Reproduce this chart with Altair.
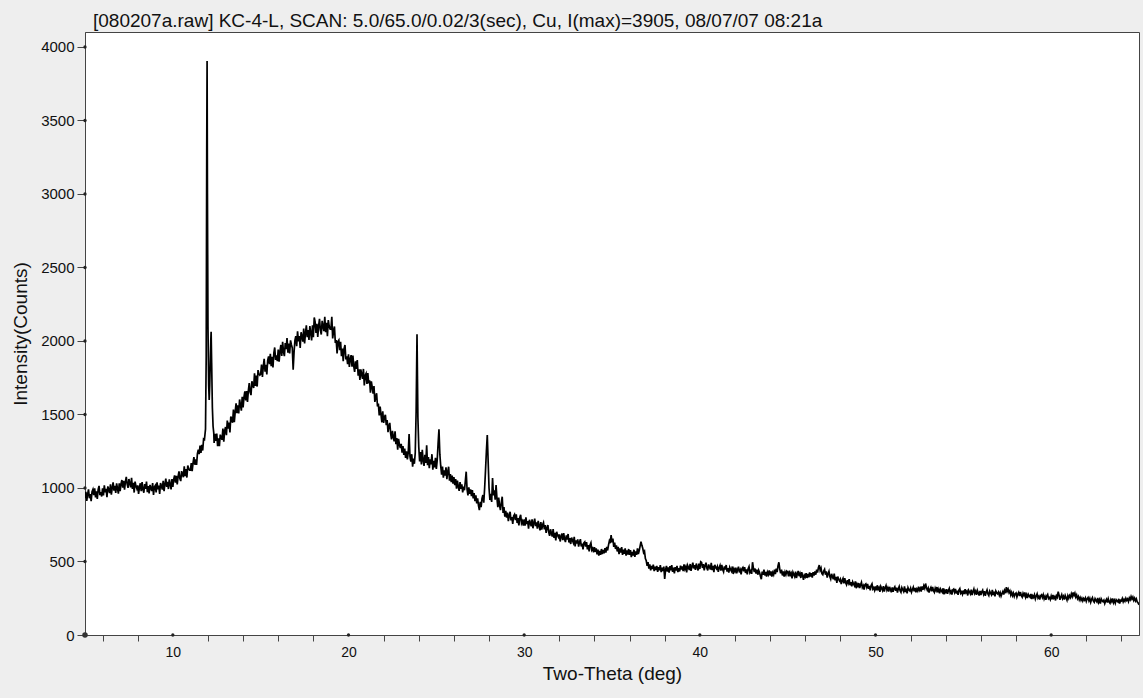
import altair as alt
import pandas as pd

TITLE = "[080207a.raw] KC-4-L, SCAN: 5.0/65.0/0.02/3(sec), Cu, I(max)=3905, 08/07/07 08:21a"
FONT = "Liberation Sans, Arial, Helvetica, sans-serif"

# Counts on a 0.05° grid: row k holds 2-theta = 5+k, 5+k+0.05, ... 5+k+0.95.
# None marks points that are covered by the finer doublet list below.
counts_by_degree = [
    # 5
    [931, 974, 912, 959, 991, 930, 958, 910, 975, 990, 951, 997, 936, 978, 926, 990, 1014, 952, 972, 942],
    # 6
    [997, 950, 1018, 970, 994, 938, 1011, 990, 965, 1025, 954, 1001, 1038, 982, 1014, 966, 1031, 996, 962, 1031],
    # 7
    [978, 1028, 1054, 1003, 1048, 989, 1041, 1076, 1026, 1001, 1061, 1030, 1004, 1069, 994, 1036, 969, 1043, 1013, 996],
    # 8
    [1018, 960, 1005, 1032, 978, 1040, 991, 968, 1027, 995, 1044, 972, 1013, 963, 1021, 999, 980, 1034, 953, 1007],
    # 9
    [1017, 970, 1039, 992, 1016, 960, 1034, 1013, 989, 1049, 979, 1026, 1064, 1008, 1041, 993, 1059, 1025, 991, 1060],
    # 10
    [1008, 1059, 1086, 1036, 1082, 1024, 1078, 1113, 1064, 1047, 1115, 1092, 1074, 1147, 1080, 1129, 1071, 1153, 1131, 1121],
    # 11
    [1121, 1169, 1114, 1169, 1210, 1158, 1194, 1157, 1233, 1260, 1231, 1288, 1238, 1293, 1255, 1334, 1330, None, None, None],
    # 12
    [None, None, None, None, None, None, None, 1307, 1368, 1320, 1370, 1285, 1338, 1284, 1363, 1342, 1328, 1404, 1315, 1389],
    # 13
    [1415, 1359, 1459, 1404, 1445, 1378, 1486, 1468, 1444, 1534, 1448, 1518, 1576, 1509, 1562, 1507, 1602, 1564, 1526, 1621],
    # 14
    [1548, 1618, 1658, 1596, 1660, 1586, 1662, 1714, 1652, 1632, 1726, 1700, 1680, 1780, 1694, 1764, 1690, 1802, 1776, 1768],
    # 15
    [1775, 1840, 1755, 1826, 1878, 1792, 1838, 1772, 1869, 1895, 1842, 1913, 1828, 1893, 1820, 1918, 1956, 1871, 1903, 1863],
    # 16
    [1941, 1860, 1930, 1973, 1898, 1994, 1926, 1897, 1986, 1944, 2020, 1920, 1983, 1915, 2004, 1975, 1953, 1805, 1922, 2004],
    # 17
    [2033, 1965, 2066, 1998, 2034, 1953, 2060, 2032, 1995, 2084, 1983, 2052, 2107, 2026, 2075, 2007, 2102, 2053, 2004, 2106],
    # 18
    [2026, 2160, 2130, 2055, 2117, 2028, 2103, 2151, 2074, 2044, 2137, 2099, 2067, 2165, 2060, 2124, 2032, 2142, 2102, 2081],
    # 19
    [2080, 2165, 2018, 2068, 2099, 1987, 2007, 1915, 1996, 2006, 1937, 1995, 1897, 1949, 1863, 1948, 1973, 1875, 1895, 1842],
    # 20
    [1909, 1823, 1876, 1904, 1825, 1901, 1828, 1790, 1861, 1811, 1870, 1764, 1808, 1735, 1807, 1772, 1743, 1810, 1697, 1765],
    # 21
    [1778, 1708, 1782, 1712, 1732, 1649, 1726, 1687, 1642, 1694, 1586, 1621, 1645, 1554, 1574, 1494, 1554, 1500, 1447, 1521],
    # 22
    [1443, 1483, 1498, 1428, 1463, 1380, 1422, 1443, 1370, 1330, 1388, 1349, 1317, 1385, 1298, 1340, 1260, 1335, 1295, 1272],
    # 23
    [1300, 1240, 1285, 1225, 1268, 1205, 1250, 1195, 1240, 1367, 1215, 1180, 1230, 1145, 1200, 1165, 1240, 1520, 2045, 1480],
    # 24
    [1280, 1180, 1245, 1160, 1260, 1190, 1150, 1225, 1170, 1290, 1155, 1210, 1135, 1195, 1160, 1230, 1125, 1185, 1140, 1205],
    # 25
    [1130, 1190, 1300, 1399, 1230, 1150, 1090, 1145, 1070, 1120, 1085, 1140, 1060, 1110, 1145, 1050, 1095, 1040, 1085, 1030],
    # 26
    [1075, 1020, 1060, 995, 1050, 1010, 980, 1040, 995, 1025, 970, 1010, 985, 1045, 1111, 990, 950, 1005, 960, 990],
    # 27
    [945, 985, 930, 965, 910, 950, 895, 930, 880, 850, 905, 870, 930, 952, 900, 1000, 1120, 1250, 1360, 1180],
    # 28
    [1000, 918, 960, 905, 1068, 950, 985, 920, 1020, 930, 870, 935, 880, 850, 900, 941, 830, 870, 805, 845],
    # 29
    [798, 832, 774, 812, 838, 780, 802, 756, 810, 820, 782, 820, 762, 796, 746, 800, 818, 760, 774, 744],
    # 30
    [787, 744, 800, 756, 774, 724, 784, 764, 739, 787, 726, 763, 792, 741, 766, 723, 776, 744, 712, 768],
    # 31
    [717, 750, 765, 719, 748, 695, 729, 748, 699, 674, 719, 692, 670, 721, 661, 695, 643, 702, 679, 666],
    # 32
    [684, 636, 670, 690, 645, 693, 652, 632, 677, 650, 687, 629, 659, 619, 663, 643, 627, 667, 603, 643],
    # 33
    [622, 650, 601, 632, 652, 603, 621, 582, 626, 633, 601, 632, 583, 611, 568, 613, 627, 578, 589, 563],
    # 34
    [598, 565, 590, 548, 580, 540, 572, 545, 585, 550, 578, 556, 590, 560, 600, 575, 612, 640, 625, 680],
    # 35
    [630, 655, 600, 628, 585, 610, 568, 600, 550, 590, 560, 598, 545, 580, 552, 590, 540, 575, 548, 585],
    # 36
    [545, 578, 530, 565, 540, 580, 532, 568, 545, 590, 550, 575, 605, 635, 610, 590, 560, 570, 520, 505],
    # 37
    [470, 495, 452, 480, 440, 470, 448, 478, 435, 465, 442, 470, 430, 462, 440, 475, 428, 458, 436, 465],
    # 38
    [382, 445, 470, 432, 460, 425, 468, 440, 475, 430, 458, 420, 462, 438, 470, 428, 455, 432, 472, 445],
    # 39
    [467, 435, 481, 448, 464, 426, 475, 461, 443, 483, 436, 467, 492, 453, 475, 443, 486, 463, 439, 485],
    # 40
    [449, 498, 493, 456, 482, 439, 472, 492, 455, 439, 480, 462, 446, 490, 442, 471, 428, 478, 460, 450],
    # 41
    [466, 429, 457, 473, 438, 477, 445, 430, 467, 446, 476, 431, 455, 425, 460, 445, 434, 466, 415, 449],
    # 42
    [434, 458, 419, 446, 465, 426, 443, 412, 451, 459, 433, 461, 422, 446, 413, 451, 465, 425, 436, 416],
    # 43
    [495, 455, 428, 452, 418, 445, 410, 440, 425, 400, 380, 432, 410, 445, 405, 430, 398, 428, 412, 440],
    # 44
    [405, 432, 398, 425, 410, 445, 415, 452, 428, 470, 495, 448, 420, 445, 405, 432, 398, 428, 410, 435],
    # 45
    [429, 399, 438, 409, 421, 386, 427, 412, 397, 431, 388, 415, 436, 400, 418, 388, 427, 404, 376, 406],
    # 46
    [395, 420, 388, 415, 392, 425, 398, 420, 390, 428, 405, 432, 410, 445, 425, 458, 476, 440, 455, 418],
    # 47
    [411, 435, 446, 410, 432, 391, 417, 433, 398, 381, 416, 397, 380, 418, 372, 396, 355, 398, 379, 368],
    # 48
    [380, 346, 370, 384, 351, 386, 356, 342, 373, 354, 380, 339, 360, 331, 362, 348, 336, 365, 318, 347],
    # 49
    [333, 353, 319, 342, 358, 323, 336, 309, 342, 348, 325, 348, 314, 334, 304, 337, 348, 313, 322, 304],
    # 50
    [330, 304, 338, 312, 323, 293, 330, 317, 303, 332, 296, 319, 336, 306, 321, 296, 328, 309, 290, 324],
    # 51
    [294, 317, 328, 301, 322, 289, 314, 330, 302, 291, 322, 308, 296, 330, 292, 315, 283, 322, 307, 300],
    # 52
    [318, 292, 310, 325, 298, 320, 290, 312, 300, 328, 305, 318, 295, 330, 308, 335, 318, 350, 322, 305],
    # 53
    [319, 289, 311, 323, 297, 327, 302, 291, 318, 303, 326, 290, 310, 284, 313, 301, 291, 318, 277, 303],
    # 54
    [291, 311, 280, 302, 317, 286, 298, 275, 306, 312, 291, 313, 282, 302, 274, 305, 315, 284, 293, 277],
    # 55
    [303, 279, 312, 288, 298, 269, 304, 293, 280, 308, 272, 294, 312, 283, 298, 274, 303, 286, 268, 300],
    # 56
    [272, 294, 305, 278, 298, 267, 290, 306, 279, 268, 298, 285, 274, 307, 272, 294, 263, 299, 286, 280],
    # 57
    [292, 270, 288, 265, 282, 296, 275, 302, 285, 325, 298, 312, 288, 300, 272, 290, 268, 285, 262, 280],
    # 58
    [286, 259, 278, 290, 265, 292, 269, 258, 284, 269, 290, 257, 274, 252, 277, 266, 257, 280, 244, 267],
    # 59
    [256, 274, 246, 265, 280, 252, 263, 241, 268, 274, 255, 274, 246, 263, 240, 266, 276, 248, 255, 241],
    # 60
    [265, 243, 273, 251, 261, 235, 267, 257, 295, 271, 239, 259, 275, 249, 263, 241, 269, 253, 237, 267],
    # 61
    [250, 268, 255, 280, 262, 290, 270, 285, 258, 272, 248, 262, 240, 255, 236, 250, 232, 248, 238, 252],
    # 62
    [229, 246, 255, 233, 249, 223, 242, 254, 232, 223, 247, 235, 226, 252, 223, 240, 214, 245, 233, 227],
    # 63
    [237, 214, 232, 243, 221, 246, 226, 217, 241, 228, 248, 220, 236, 217, 240, 231, 225, 246, 214, 236],
    # 64
    [232, 248, 226, 242, 230, 250, 235, 245, 228, 252, 240, 262, 245, 258, 236, 250, 232, 245, 225, 218],
]
counts_at_65 = 205

# Finer sampling across the sharp doublet near 12°
doublet_theta = [11.86, 11.90, 11.93, 11.95, 11.97, 12.00, 12.04, 12.07,
                 12.10, 12.13, 12.16, 12.18, 12.21, 12.25, 12.29, 12.33]
doublet_counts = [1400, 1900, 3300, 3905, 3000, 2100, 1700, 1599,
                  1700, 1850, 2000, 2063, 1850, 1550, 1420, 1374]

# Axis ticks
x_tick_values = [6, 8, 10, 12, 14, 16, 18, 20, 22, 24, 26, 28, 30, 32, 34, 36,
                 38, 40, 42, 44, 46, 48, 50, 52, 54, 56, 58, 60, 62, 64]
x_major_values = [10, 20, 30, 40, 50, 60]
y_tick_values = [0, 500, 1000, 1500, 2000, 2500, 3000, 3500, 4000]

x_domain = [5, 65]
y_domain = [0, 4102]

# ---- assemble the scan table ----
theta, counts = [], []
for k, row in enumerate(counts_by_degree):
    for j, c in enumerate(row):
        if c is not None:
            theta.append(round(5 + k + j * 0.05, 2))
            counts.append(c)
theta.append(65.0)
counts.append(counts_at_65)
theta += doublet_theta
counts += doublet_counts
scan = pd.DataFrame({"theta": theta, "counts": counts}).sort_values("theta")

x_scale = alt.Scale(domain=x_domain, nice=False, zero=False)
y_scale = alt.Scale(domain=y_domain, nice=False)

AXIS_COLOR = "#444444"
TEXT_COLOR = "#111111"

x_axis = alt.Axis(
    title="Two-Theta (deg)",
    values=x_tick_values,
    labelExpr="datum.value % 10 === 0 ? datum.label : ''",
    labelOverlap=False,
    tickSize=6,
    tickColor=AXIS_COLOR,
    tickOpacity={"condition": {"test": "datum.value % 10 === 0", "value": 0}, "value": 1},
    domainColor=AXIS_COLOR,
    labelPadding=4,
    labelFontSize=14,
    labelColor=TEXT_COLOR,
    titleFontSize=19,
    titleFontWeight="normal",
    titleColor=TEXT_COLOR,
    titlePadding=5,
    grid=False,
)
y_axis = alt.Axis(
    title="Intensity(Counts)",
    values=y_tick_values,
    format="d",
    labelOverlap=False,
    tickSize=8,
    tickColor=AXIS_COLOR,
    domainColor=AXIS_COLOR,
    labelPadding=3,
    labelFontSize=15,
    labelColor=TEXT_COLOR,
    titleFontSize=19,
    titleFontWeight="normal",
    titleColor=TEXT_COLOR,
    titlePadding=10,
    grid=False,
)

x_enc = alt.X("theta:Q", scale=x_scale, axis=x_axis)
y_enc = alt.Y("counts:Q", scale=y_scale, axis=y_axis)

line = alt.Chart(scan).mark_line(color="#000000", strokeWidth=1.7, clip=True).encode(
    x=x_enc, y=y_enc
)

# small dots marking the labelled tick positions on both axes
x_dots = pd.DataFrame({"theta": x_major_values, "counts": [0] * len(x_major_values)})
y_dots = pd.DataFrame({"theta": [x_domain[0]] * len(y_tick_values), "counts": y_tick_values})
dots = pd.concat([x_dots, y_dots])

dot_layer = alt.Chart(dots).mark_circle(color="#222222", size=11, opacity=1).encode(
    x=x_enc, y=y_enc
)
origin = pd.DataFrame({"theta": [x_domain[0]], "counts": [0]})
origin_layer = alt.Chart(origin).mark_circle(color="#333333", size=30, opacity=1).encode(
    x=x_enc, y=y_enc
)

chart = (
    alt.layer(line, dot_layer, origin_layer)
    .properties(
        width=1054,
        height=603,
        autosize=alt.AutoSizeParams(type="none"),
        padding={"left": 85, "top": 32, "right": 4, "bottom": 63},
        background="#eeeeee",
        title=alt.TitleParams(
            text=TITLE,
            anchor="start",
            frame="group",
            dx=8,
            dy=20,
            fontSize=19,
            font=FONT,
            fontWeight="normal",
            color=TEXT_COLOR,
            baseline="bottom",
            offset=2,
        ),
    )
    .configure(font=FONT)
    .configure_view(fill="#ffffff", stroke=AXIS_COLOR, strokeWidth=1)
    .configure_axis(labelFont=FONT, titleFont=FONT, labelOverlap=False)
)

chart.save("out.html", embed_options={"renderer": "svg", "actions": False})
